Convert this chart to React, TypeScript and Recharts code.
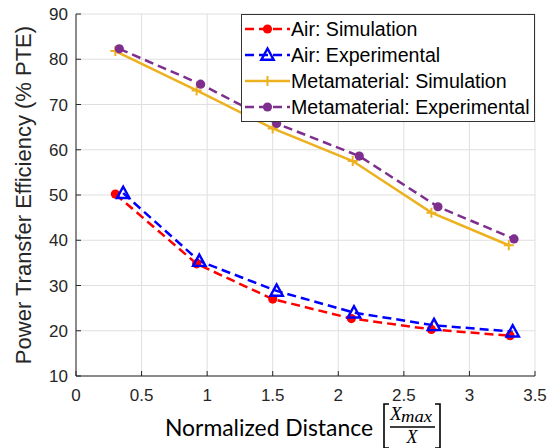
import React from 'react';
import { LineChart, Line, XAxis, YAxis, CartesianGrid } from 'recharts';

// ---- data ----
const xTicks = [0, 0.5, 1, 1.5, 2, 2.5, 3, 3.5];
const yTicks = [10, 20, 30, 40, 50, 60, 70, 80, 90];

const airSimX = [0.3, 0.92, 1.5, 2.1, 2.71, 3.31];
const airSimY = [50.2, 34.8, 27.0, 22.7, 20.3, 18.9];
const airExpX = [0.36, 0.94, 1.53, 2.12, 2.73, 3.33];
const airExpY = [50.4, 35.4, 28.8, 24.0, 21.2, 19.8];
const metaSimX = [0.3, 0.92, 1.5, 2.11, 2.71, 3.3];
const metaSimY = [81.8, 73.1, 64.7, 57.5, 46.1, 38.9];
const metaExpX = [0.33, 0.95, 1.53, 2.16, 2.76, 3.34];
const metaExpY = [82.3, 74.5, 65.8, 58.6, 47.4, 40.3];

const seriesNames = [
  'Air: Simulation',
  'Air: Experimental',
  'Metamaterial: Simulation',
  'Metamaterial: Experimental',
];

const toPoints = (xs: number[], ys: number[]) => xs.map((x, i) => ({ x, y: ys[i] }));
const airSim = toPoints(airSimX, airSimY);
const airExp = toPoints(airExpX, airExpY);
const metaSim = toPoints(metaSimX, metaSimY);
const metaExp = toPoints(metaExpX, metaExpY);

const RED = '#ff0000';
const BLUE = '#0000ff';
const YELLOW = '#edb120';
const PURPLE = '#7e2f8e';
const AXIS = '#262626';
const FONT = '"Liberation Sans", Arial, Helvetica, sans-serif';

// ---- markers ----
const Circle = ({ cx, cy, color }: any) => <circle cx={cx} cy={cy} r={4.6} fill={color} />;
const Tri = ({ cx, cy, color }: any) => (
  <path
    d={`M${cx},${cy - 6.5} L${cx - 6.2},${cy + 4.8} L${cx + 6.2},${cy + 4.8} Z`}
    fill="none"
    stroke={color}
    strokeWidth={2.4}
    strokeLinejoin="miter"
  />
);
const Plus = ({ cx, cy, color }: any) => (
  <path d={`M${cx - 5},${cy} L${cx + 5},${cy} M${cx},${cy - 5} L${cx},${cy + 5}`} stroke={color} strokeWidth={2} />
);

const mkDot = (Comp: any, color: string) => (p: any) =>
  p.cx == null ? <g key={`e-${p.index}`} /> : <Comp key={`m-${p.index}`} cx={p.cx} cy={p.cy} color={color} />;

const YLabel = (props: any) => {
  const vb = props.viewBox || { x: 0, y: 14, width: 76, height: 362 };
  const cy = vb.y + vb.height / 2;
  return (
    <text
      x={23}
      y={cy}
      transform={`rotate(-90, 23, ${cy})`}
      textAnchor="middle"
      dominantBaseline="central"
      fontFamily={FONT}
      fontSize={22}
      fill={AXIS}
    >
      Power Transfer Efficiency (% PTE)
    </text>
  );
};

const XLabel = () => {
  const serif = '"Liberation Serif", "DejaVu Serif", serif';
  return (
    <g>
      <text
        x={165}
        y={436}
        fontFamily='Lato, "Liberation Sans", sans-serif'
        fontSize={23.5}
        fill="#000"
        textLength={208}
        lengthAdjust="spacingAndGlyphs"
      >
        Normalized Distance
      </text>
      <path d="M389,404 L384,404 L384,448 L389,448" fill="none" stroke="#000" strokeWidth={1.6} />
      <path d="M435,404 L440,404 L440,448 L435,448" fill="none" stroke="#000" strokeWidth={1.6} />
      <line x1={390} x2={435} y1={427} y2={427} stroke="#000" strokeWidth={1.4} />
      <text x={390} y={420} fontFamily={serif} fontStyle="italic" fontSize={19} fill="#000">
        X
      </text>
      <text
        x={401}
        y={422}
        fontFamily={serif}
        fontStyle="italic"
        fontSize={17}
        fill="#000"
        textLength={31}
        lengthAdjust="spacingAndGlyphs"
      >
        max
      </text>
      <text x={412} y={443} textAnchor="middle" fontFamily={serif} fontStyle="italic" fontSize={18} fill="#000">
        X
      </text>
    </g>
  );
};

const LegendBox = () => {
  const rows = [
    { color: RED, dash: '9 5', M: Circle },
    { color: BLUE, dash: '9 5', M: Tri },
    { color: YELLOW, dash: undefined, M: Plus },
    { color: PURPLE, dash: '9 5', M: Circle },
  ];
  return (
    <div
      style={{
        position: 'absolute',
        left: 241,
        top: 14,
        width: 294,
        height: 108,
        boxSizing: 'border-box',
        border: '1px solid #333',
        background: '#fff',
      }}
    >
      <svg width={292} height={106} style={{ display: 'block' }}>
        {rows.map((r, i) => {
          const y = 14 + i * 26;
          const M = r.M;
          return (
            <g key={i}>
              <line x1={3} x2={48} y1={y} y2={y} stroke={r.color} strokeWidth={2.5} strokeDasharray={r.dash} />
              <M cx={25.5} cy={y} color={r.color} />
              <text x={49} y={y} dominantBaseline="central" fontFamily={FONT} fontSize={19.6} fill="#000">
                {seriesNames[i]}
              </text>
            </g>
          );
        })}
      </svg>
    </div>
  );
};

export default function App() {
  return (
    <div style={{ position: 'absolute', left: 0, top: 0, width: 550, height: 448, background: '#fff' }}>
      <LineChart width={550} height={448} margin={{ top: 14, right: 15, bottom: 0, left: 0 }}>
        <CartesianGrid stroke="#dfdfdf" strokeWidth={1} xAxisId="b" yAxisId="l" />
        <XAxis
          xAxisId="b"
          dataKey="x"
          type="number"
          domain={[0, 3.5]}
          ticks={xTicks}
          allowDataOverflow
          height={72}
          orientation="bottom"
          stroke={AXIS}
          tickSize={-5}
          tickMargin={18}
          tick={{ fill: AXIS, fontSize: 17, fontFamily: FONT }}
          label={{ content: () => <XLabel /> }}
        />
        <XAxis
          xAxisId="t"
          dataKey="x"
          type="number"
          domain={[0, 3.5]}
          ticks={xTicks}
          allowDataOverflow
          height={0}
          orientation="top"
          stroke={AXIS}
          tickSize={-5}
          tickFormatter={() => ''}
        />
        <YAxis
          yAxisId="l"
          type="number"
          domain={[10, 90]}
          ticks={yTicks}
          allowDataOverflow
          width={76}
          orientation="left"
          stroke={AXIS}
          tickSize={-5}
          tickMargin={13}
          tick={{ fill: AXIS, fontSize: 17, fontFamily: FONT }}
          label={{ content: (p: any) => <YLabel {...p} /> }}
        />
        <YAxis
          yAxisId="r"
          type="number"
          domain={[10, 90]}
          ticks={yTicks}
          allowDataOverflow
          width={0}
          orientation="right"
          stroke={AXIS}
          tickSize={-5}
          tickFormatter={() => ''}
        />
        <Line
          xAxisId="b"
          yAxisId="l"
          data={airSim}
          dataKey="y"
          type="linear"
          stroke={RED}
          strokeWidth={2.5}
          strokeDasharray="9 5"
          dot={mkDot(Circle, RED)}
          isAnimationActive={false}
        />
        <Line
          xAxisId="b"
          yAxisId="l"
          data={airExp}
          dataKey="y"
          type="linear"
          stroke={BLUE}
          strokeWidth={2.5}
          strokeDasharray="9 5"
          dot={mkDot(Tri, BLUE)}
          isAnimationActive={false}
        />
        <Line
          xAxisId="b"
          yAxisId="l"
          data={metaSim}
          dataKey="y"
          type="linear"
          stroke={YELLOW}
          strokeWidth={2.5}
          dot={mkDot(Plus, YELLOW)}
          isAnimationActive={false}
        />
        <Line
          xAxisId="b"
          yAxisId="l"
          data={metaExp}
          dataKey="y"
          type="linear"
          stroke={PURPLE}
          strokeWidth={2.5}
          strokeDasharray="9 5"
          dot={mkDot(Circle, PURPLE)}
          isAnimationActive={false}
        />
      </LineChart>
      <LegendBox />
    </div>
  );
}
